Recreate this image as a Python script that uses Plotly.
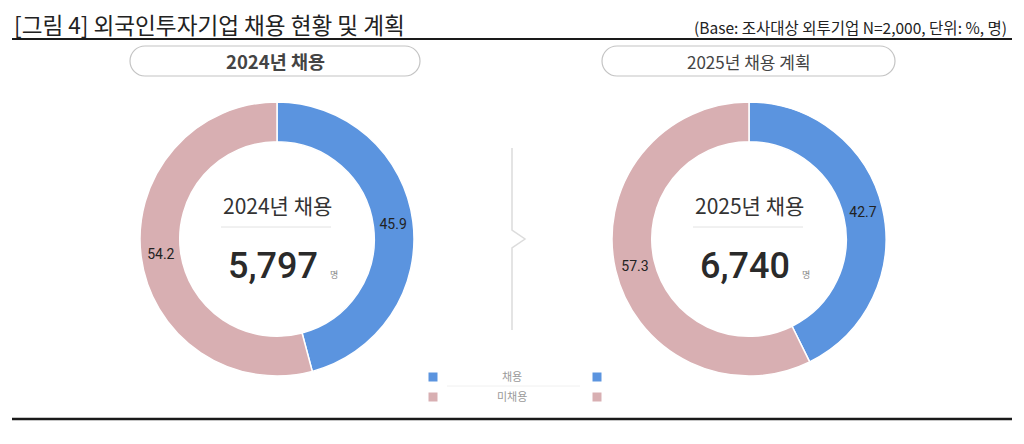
#!/usr/bin/env python3

"""plot.py: 외국인투자기업 채용 현황 및 계획 (two donut charts)."""

import plotly.graph_objects as go

# DATA
categories = ['채용', '미채용']
share_2024 = [45.9, 54.2]
share_2025 = [42.7, 57.3]
total_2024 = '5,797'
total_2025 = '6,740'
panel_titles = ['2024년 채용', '2025년 채용 계획']
center_titles = ['2024년 채용', '2025년 채용']
title_text = '[그림 4] 외국인투자기업 채용 현황 및 계획'
base_text = '(Base: 조사대상 외투기업 N=2,000, 단위: %, 명)'

colors = ['#5b94df', '#d8afb2']
KR = 'Noto Sans CJK KR'
NUM = 'Roboto, Noto Sans CJK KR'

W, H = 1024, 444
OFF = 8  # page body margin: screen pixel = figure pixel + OFF


def pill(x0, x1, y0, y1):
    # rounded capsule path in screen pixel coords
    r = (y1 - y0) / 2
    ym = (y0 + y1) / 2
    k = 0.552 * r
    return (f'M {x0 + r},{y0} L {x1 - r},{y0} '
            f'C {x1 - r + k},{y0} {x1},{ym - k} {x1},{ym} '
            f'C {x1},{ym + k} {x1 - r + k},{y1} {x1 - r},{y1} '
            f'L {x0 + r},{y1} '
            f'C {x0 + r - k},{y1} {x0},{ym + k} {x0},{ym} '
            f'C {x0},{ym - k} {x0 + r - k},{y0} {x0 + r},{y0} Z')


fig = go.Figure()

# donuts: (center x, center y, radius) in screen pixels
donuts = [(277, 239, 137, share_2024), (749, 239, 137, share_2025)]
for cx, cy, r, vals in donuts:
    fx, fy = cx - OFF, cy - OFF
    fig.add_trace(go.Pie(
        labels=categories,
        values=vals,
        texttemplate='%{value}',
        textposition='inside',
        insidetextorientation='horizontal',
        textfont=dict(family=NUM, size=14, color='#222222'),
        hole=0.71,
        sort=False,
        direction='clockwise',
        rotation=0,
        marker=dict(colors=colors, line=dict(color='white', width=1.5)),
        domain=dict(x=[(fx - r) / W, (fx + r) / W],
                    y=[(H - fy - r) / H, (H - fy + r) / H]),
        showlegend=False,
        hoverinfo='label+value',
    ))

shapes = []
annotations = []

# header
annotations.append(dict(x=12, y=24, text=title_text, xanchor='left', yanchor='middle',
                        showarrow=False, font=dict(family=KR, size=22.6, color='#222222')))
annotations.append(dict(x=1009, y=27, text=base_text, xanchor='right', yanchor='middle',
                        showarrow=False, font=dict(family=KR, size=15.5, color='#222222')))
shapes.append(dict(type='line', x0=12, x1=1012, y0=39, y1=39,
                   line=dict(color='#1a1a1a', width=2.2)))
shapes.append(dict(type='line', x0=12, x1=1012, y0=419, y1=419,
                   line=dict(color='#1a1a1a', width=2.6)))

# panel pills
pills = [(130, 420, panel_titles[0], True, 18.5), (602, 895, panel_titles[1], False, 17)]
for x0, x1, txt, bold, fsize in pills:
    shapes.append(dict(type='path', path=pill(x0, x1, 46, 76),
                       line=dict(color='#c4c4c4', width=1.2), fillcolor='white'))
    label = f'<b>{txt}</b>' if bold else txt
    annotations.append(dict(x=(x0 + x1) / 2, y=61, text=label, showarrow=False,
                            font=dict(family=KR, size=fsize, color='#444444')))

# centre texts
totals = [total_2024, total_2025]
for (cx, cy, r, vals), ctitle, tot in zip(donuts, center_titles, totals):
    annotations.append(dict(x=cx, y=205, text=ctitle, showarrow=False,
                            font=dict(family=KR, size=21, color='#333333')))
    shapes.append(dict(type='line', x0=cx - 56, x1=cx + 54, y0=227, y1=227,
                       line=dict(color='#e2e2e2', width=1)))
    annotations.append(dict(x=cx - 4, y=266, text=tot, showarrow=False,
                            font=dict(family=NUM, size=36, color='#2a2a2a', weight=500)))
    annotations.append(dict(x=cx + 57, y=274, text='명', showarrow=False,
                            font=dict(family=KR, size=9, color='#888888')))

# divider with chevron
shapes.append(dict(type='path', path='M 512,148 L 512,230 L 525,239 L 512,248 L 512,330',
                   line=dict(color='#dcdcdc', width=1.5)))

# legend
for i, (cat, col) in enumerate(zip(categories, colors)):
    y = 377 + i * 20
    for x in (433, 597):
        shapes.append(dict(type='rect', x0=x - 4.5, x1=x + 4.5, y0=y - 4.5, y1=y + 4.5,
                           fillcolor=col, line=dict(width=0)))
    annotations.append(dict(x=512, y=y - 1, text=cat, showarrow=False,
                            font=dict(family=KR, size=11, color='#9a9a9a')))
shapes.append(dict(type='line', x0=447, x1=580, y0=386, y1=386,
                   line=dict(color='#f0f0f0', width=1)))

for a in annotations:
    a.update(xref='x', yref='y')
for s in shapes:
    s.update(xref='x', yref='y')

fig.update_layout(
    width=W, height=H,
    margin=dict(l=0, r=0, t=0, b=0),
    paper_bgcolor='white',
    plot_bgcolor='white',
    xaxis=dict(range=[OFF, W + OFF], visible=False, fixedrange=True, domain=[0, 1]),
    yaxis=dict(range=[H + OFF, OFF], visible=False, fixedrange=True, domain=[0, 1]),
    shapes=shapes,
    annotations=annotations,
)

fig.write_html('out.html')
